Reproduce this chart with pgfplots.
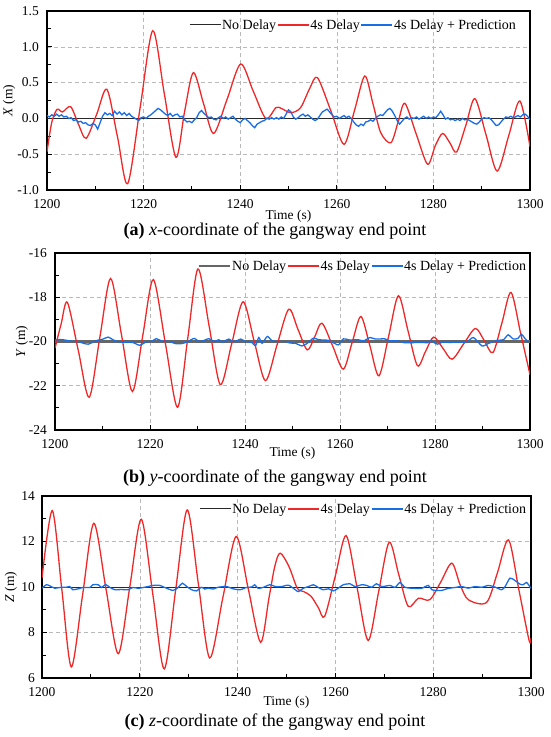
\documentclass[border=0pt]{standalone}
\usepackage{pgfplots}
\pgfplotsset{compat=1.18}
\usepackage{fontspec}
\setmainfont{Liberation Serif}
\definecolor{myred}{RGB}{238,40,40}
\definecolor{myblue}{RGB}{25,110,230}
\definecolor{nodel}{RGB}{40,40,40}
\definecolor{gridc}{RGB}{185,185,185}
\pgfplotsset{
  gangway/.style={
    scale only axis,
    xmin=1200, xmax=1300,
    xtick={1200,1220,...,1300},
    minor x tick num=1,
    minor y tick num=1,
    tick pos=left,
    tick align=inside,
    major tick length=5pt,
    minor tick length=4pt,
    tick style={black, line width=0.9pt},
    axis line style={black, line width=1.2pt},
    grid=major,
    major grid style={gridc, dash pattern=on 4pt off 3pt, line width=0.6pt},
    /pgf/number format/assume math mode=true,
    /pgf/number format/1000 sep={},
    ticklabel style={font=\fontsize{13.5}{15}\selectfont},
    label style={font=\fontsize{13.5}{16}\selectfont},
    xticklabel style={yshift=-6pt},
    xlabel={Time (s)},
    legend columns=3,
    legend style={draw=none, fill=none, inner sep=0pt, outer sep=0pt,
      font=\fontsize{14}{16}\selectfont,
      /tikz/every even column/.append style={column sep=0pt},
      nodes={inner sep=1pt}},
    legend image code/.code={\draw[#1] (0pt,0pt) -- (31pt,0pt);},
  }
}
\begin{document}
\begin{tikzpicture}
\useasboundingbox (0,0) rectangle (550pt,-737pt);
% ---------------- (a) ----------------
\begin{axis}[gangway,
  at={(47pt,-190pt)}, anchor=south west,
  width=483pt, height=179pt,
  ymin=-1.0, ymax=1.5, ytick={-1.0,-0.5,...,1.5},
  yticklabel style={/pgf/number format/.cd, fixed, fixed zerofill, precision=1, /tikz/.cd, inner sep=0pt, xshift=-8pt},
  ylabel={\textit{X} (m)},
  ylabel style={at={(axis description cs:-0.0786,0.5)}, anchor=center},
  xlabel style={at={(axis description cs:0.5,-0.148)}, anchor=center},
  legend style={at={(0.973,0.922)}, anchor=east},
]
\addplot[nodel, line width=1pt] coordinates {(1200,0) (1300,0)};
\addplot[myred, line width=1.3pt, smooth] coordinates {
(1200,-0.465) (1201,-0.05) (1202.1,0.127) (1203.2,0.09) (1204.9,0.163) (1206.5,-0.08)
(1208.1,-0.278) (1210.3,0.06) (1212.4,0.406) (1214.6,-0.26) (1216.7,-0.912) (1219.3,0.16)
(1221.9,1.225) (1224.3,0.34) (1226.7,-0.544) (1228.5,0.1) (1230.3,0.64) (1232.4,0.21)
(1234.5,-0.21) (1237.3,0.27) (1240.1,0.76) (1242.7,0.38) (1245.3,0.0) (1247.4,0.15)
(1248.5,0.14) (1250.5,0.08) (1252.5,0.15) (1254.4,0.42) (1256.0,0.569) (1258.8,0.1)
(1261.5,-0.362) (1263.7,0.12) (1265.8,0.592) (1267.5,0.2) (1269.1,-0.2) (1271.2,-0.34)
(1272.7,-0.05) (1274.1,0.21) (1276.5,-0.23) (1278.8,-0.64) (1280.4,-0.38) (1281.9,-0.21)
(1283.4,-0.34) (1284.8,-0.47) (1286.7,-0.1) (1288.6,0.276) (1290.9,-0.23) (1293.2,-0.735)
(1295.6,-0.24) (1297.9,0.243) (1300,-0.395)};
\addplot[myblue, line width=1.3pt] coordinates {
(1200,0.04) (1200.5,0.02) (1201,0.05) (1201.5,0.03) (1202,0.06) (1202.5,0.03) (1203,0.05)
(1203.5,0.02) (1204,0.03) (1204.5,0.0) (1205,0.01) (1205.5,-0.03) (1206,-0.02) (1206.5,-0.05)
(1207,-0.04) (1207.5,-0.07) (1208,-0.06) (1208.5,-0.09) (1209,-0.1) (1209.5,-0.07) (1210,-0.09)
(1210.5,-0.15) (1211,-0.06) (1211.5,0.03) (1212,0.08) (1212.5,0.05) (1213,0.07) (1213.5,0.04)
(1214,0.1) (1214.5,0.06) (1215,0.09) (1215.5,0.05) (1216,0.08) (1216.5,0.04) (1217,0.07)
(1217.5,0.03) (1218,0.01) (1218.5,-0.01) (1219,-0.03) (1219.5,0.01) (1220,0.02) (1220.5,0.0)
(1221,0.03) (1221.5,0.05) (1222,0.08) (1222.5,0.11) (1223,0.14) (1223.5,0.12) (1224,0.09)
(1224.5,0.06) (1225,0.04) (1225.5,0.07) (1226,0.03) (1226.5,0.05) (1227,0.06) (1227.5,0.02)
(1228,0.03) (1228.5,-0.02) (1229,-0.05) (1229.5,-0.04) (1230,-0.06) (1230.5,-0.02) (1231,0.01)
(1231.5,0.08) (1232,0.11) (1232.5,0.07) (1233,0.04) (1233.5,0.01) (1234,0.02) (1234.5,-0.01)
(1235,-0.02) (1235.5,0.01) (1236,0.03) (1236.5,0.0) (1237,0.02) (1237.5,-0.01) (1238,0.01)
(1238.5,0.03) (1239,-0.01) (1239.5,-0.04) (1240,-0.06) (1240.5,-0.02) (1241,0.0) (1241.5,-0.03)
(1242,-0.06) (1242.5,-0.1) (1243,-0.13) (1243.5,-0.08) (1244,-0.06) (1244.5,-0.04) (1245,-0.03)
(1245.5,0.0) (1246,-0.01) (1246.5,0.01) (1247,-0.01) (1247.5,0.01) (1248,-0.01) (1248.5,0.02)
(1249,0.0) (1249.5,0.06) (1250,0.12) (1250.5,0.09) (1251,0.02) (1251.5,-0.01) (1252,0.01)
(1252.5,0.04) (1253,0.06) (1253.5,0.03) (1254,0.05) (1254.5,0.02) (1255,-0.01) (1255.5,-0.03)
(1256,-0.01) (1256.5,0.04) (1257,0.09) (1257.5,0.11) (1258,0.13) (1258.5,0.09) (1259,0.05)
(1259.5,0.02) (1260,0.03) (1260.5,0.0) (1261,0.02) (1261.5,0.04) (1262,0.01) (1262.5,0.03)
(1263,0.0) (1263.5,-0.05) (1264,-0.09) (1264.5,-0.11) (1265,-0.08) (1265.5,-0.1) (1266,-0.05)
(1266.5,-0.04) (1267,-0.02) (1267.5,-0.04) (1268,0.0) (1268.5,0.03) (1269,0.05) (1269.5,0.04)
(1270,0.08) (1270.5,0.12) (1271,0.14) (1271.5,0.1) (1272,0.04) (1272.5,-0.03) (1273,-0.08)
(1273.5,-0.04) (1274,0.0) (1274.5,0.02) (1275,-0.01) (1275.5,0.01) (1276,0.0) (1276.5,0.02)
(1277,-0.01) (1277.5,0.01) (1278,0.03) (1278.5,0.0) (1279,0.02) (1279.5,0.0) (1280,0.02)
(1280.5,0.01) (1281,0.05) (1281.5,0.1) (1282,0.05) (1282.5,-0.01) (1283,0.01) (1283.5,-0.02)
(1284,-0.01) (1284.5,-0.03) (1285,-0.01) (1285.5,-0.03) (1286,0.0) (1286.5,-0.02) (1287,-0.01)
(1287.5,-0.03) (1288,-0.05) (1288.5,-0.07) (1289,-0.08) (1289.5,-0.05) (1290,-0.01) (1290.5,0.01)
(1291,0.0) (1291.5,0.01) (1292,-0.02) (1292.5,-0.06) (1293,-0.1) (1293.5,-0.09) (1294,-0.05)
(1294.5,-0.01) (1295,0.02) (1295.5,0.01) (1296,0.03) (1296.5,0.01) (1297,0.02) (1297.5,0.04)
(1298,0.02) (1298.5,0.05) (1299,0.06) (1299.5,0.03) (1300,-0.02)};
\legend{No Delay, 4s Delay, 4s Delay + Prediction}
\end{axis}
\node at (275pt,-231pt) {\fontsize{18}{21}\selectfont\textbf{(a)} \textit{x}-coordinate of the gangway end point};
% ---------------- (b) ----------------
\begin{axis}[gangway,
  at={(55pt,-430pt)}, anchor=south west,
  width=475pt, height=177pt,
  ymin=-24, ymax=-16, ytick={-24,-22,...,-16},
  yticklabel style={inner sep=0pt, xshift=-8pt},
  ylabel={\textit{Y} (m)},
  ylabel style={at={(axis description cs:-0.0695,0.5)}, anchor=center},
  xlabel style={at={(axis description cs:0.5,-0.132)}, anchor=center},
  legend style={at={(0.9937,0.927)}, anchor=east},
]
\addplot[black!60, line width=2.2pt] coordinates {(1200,-20) (1300,-20)};
\addplot[myred, line width=1.3pt, smooth] coordinates {
(1200,-20.3) (1201.3,-19.2) (1202.6,-18.23) (1204.9,-20.4) (1207.2,-22.52) (1209.45,-19.8)
(1211.7,-17.15) (1214.0,-19.7) (1216.3,-22.26) (1218.5,-19.7) (1220.7,-17.2) (1223.25,-20.1)
(1225.8,-22.97) (1227.95,-19.85) (1230.1,-16.72) (1232.45,-19.3) (1234.8,-21.95) (1237.2,-20.1)
(1239.6,-18.2) (1241.95,-20.0) (1244.3,-21.77) (1246.75,-20.15) (1249.2,-18.54) (1251.15,-19.45)
(1253.1,-20.38) (1254.65,-19.8) (1256.2,-19.17) (1258.45,-20.2) (1260.7,-21.25) (1262.55,-20.05)
(1264.4,-18.87) (1266.3,-20.2) (1268.2,-21.55) (1270.25,-19.75) (1272.3,-17.93) (1274.3,-19.5)
(1276.3,-21.09) (1278.0,-20.45) (1279.7,-19.8) (1281.65,-20.3) (1283.6,-20.8) (1286.05,-20.1)
(1288.5,-19.41) (1290.35,-19.95) (1292.2,-20.5) (1294.1,-19.15) (1296.0,-17.78) (1298,-19.6)
(1300,-21.5)};
\addplot[myblue, line width=1.3pt, smooth, tension=0.4] coordinates {
(1200,-19.93) (1201,-19.91) (1202,-19.93) (1203,-19.97) (1204,-20.0) (1205,-20.01) (1206,-20.08)
(1207,-20.12) (1208,-20.03) (1209,-19.94) (1210,-19.9) (1211.2,-19.8) (1212.2,-19.92) (1213.5,-20.02)
(1215,-20.03) (1216.5,-20.05) (1217.8,-20.17) (1219.2,-20.02) (1220.5,-19.98) (1221.3,-19.87)
(1222.5,-19.98) (1224,-20.0) (1225.5,-20.1) (1226.8,-20.09) (1228,-20.0) (1229.3,-19.86)
(1230.4,-20.01) (1231.4,-19.95) (1232.4,-19.87) (1233.5,-20.0) (1234.5,-19.92) (1235.2,-20.03)
(1236.6,-19.89) (1237.7,-20.02) (1239.1,-19.89) (1240.1,-20.0) (1241.5,-20.05) (1242.2,-20.2)
(1242.9,-19.82) (1243.6,-20.08) (1244.7,-19.77) (1245.7,-19.97) (1247,-20.0) (1248.5,-20.0)
(1249.5,-20.07) (1250.6,-20.08) (1252,-20.2) (1253.1,-20.08) (1254.4,-19.85) (1255.5,-19.92)
(1256.5,-19.93) (1257.6,-19.95) (1259,-20.1) (1259.7,-20.15) (1260.7,-19.88) (1262,-19.93)
(1263.8,-19.92) (1265,-19.97) (1266.3,-19.82) (1267.5,-19.89) (1269.4,-19.88) (1270.5,-19.97)
(1272.2,-19.97) (1273.5,-20.05) (1275.5,-20.05) (1277,-20.04) (1278.4,-20.05) (1279.1,-19.97)
(1280.5,-20.12) (1281.5,-20.03) (1283,-20.04) (1285,-20.03) (1286.7,-20.02) (1288.1,-19.82)
(1289.9,-20.2) (1291.3,-20.08) (1293,-19.95) (1294.4,-19.92) (1295.4,-19.7) (1296.5,-19.89)
(1297.5,-19.85) (1298.2,-19.67) (1298.9,-19.85) (1299.6,-20.0) (1300,-20.02)};
\legend{No Delay, 4s Delay, 4s Delay + Prediction}
\end{axis}
\node at (275pt,-478pt) {\fontsize{18}{21}\selectfont\textbf{(b)} \textit{y}-coordinate of the gangway end point};
% ---------------- (c) ----------------
\begin{axis}[gangway,
  at={(42pt,-678pt)}, anchor=south west,
  width=489pt, height=182pt,
  ymin=6, ymax=14, ytick={6,8,...,14},
  yticklabel style={inner sep=0pt, xshift=-7pt},
  ylabel={\textit{Z} (m)},
  ylabel style={at={(axis description cs:-0.0634,0.5)}, anchor=center},
  xlabel style={at={(axis description cs:0.5,-0.134)}, anchor=center},
  legend style={at={(0.992,0.929)}, anchor=east},
]
\addplot[nodel, line width=1pt] coordinates {(1200,10) (1300,10)};
\addplot[myred, line width=1.3pt, smooth] coordinates {
(1200,10.39) (1202.1,13.36) (1204.05,9.9) (1206.0,6.49) (1208.3,9.65) (1210.6,12.8)
(1213.1,9.9) (1215.6,7.07) (1217.95,10.0) (1220.3,12.98) (1222.65,9.7) (1225.0,6.4)
(1227.35,9.9) (1229.7,13.39) (1232.0,10.1) (1234.3,6.88) (1237.0,9.55) (1239.7,12.22)
(1242.2,9.9) (1244.7,7.57) (1246.4,9.5) (1247.6,10.9) (1248.7,11.49) (1250.5,10.9)
(1252.2,9.95) (1253.5,9.8) (1255,9.6) (1256.5,9.1) (1257.8,8.71) (1260.0,10.5)
(1262.2,12.26) (1264.45,9.95) (1266.7,7.65) (1268.85,9.8) (1271.0,11.97) (1272.95,10.55)
(1274.9,9.15) (1277.0,9.51) (1279.3,9.44) (1281.5,10.2) (1283.8,11.05) (1285.5,10.1)
(1287.2,9.44) (1290.9,9.32) (1293.1,10.6) (1295.4,12.07) (1297.5,9.9) (1299.6,7.66)
(1300,7.75)};
\addplot[myblue, line width=1.3pt, smooth, tension=0.4] coordinates {
(1200,9.95) (1200.9,10.1) (1201.6,10.05) (1202.6,9.95) (1204,9.99) (1205,9.99) (1205.7,10.02)
(1206.3,9.88) (1207.4,9.92) (1208.4,9.98) (1209.8,9.98) (1210.4,10.1) (1211.5,10.1) (1212.2,9.98)
(1213,10.11) (1213.9,9.98) (1214.9,9.88) (1216.2,9.89) (1217.6,9.88) (1218.6,9.98) (1219.7,9.94)
(1220.7,9.98) (1221.7,10.02) (1222.7,10.07) (1224.1,10.07) (1225.1,9.98) (1226.8,9.85)
(1227.9,9.99) (1228.7,10.17) (1229.6,10.02) (1230.6,9.88) (1231.6,9.83) (1232.6,9.99)
(1233.3,9.91) (1234,9.95) (1235,9.91) (1236,9.99) (1237.7,10.02) (1239.1,9.92) (1240.5,9.88)
(1241.8,9.98) (1242.9,10.0) (1243.5,10.1) (1244.2,9.94) (1245.3,9.99) (1246.6,10.1)
(1247.7,10.02) (1249,10.02) (1250.4,10.08) (1251.8,9.88) (1252.4,9.8) (1253.5,9.95)
(1254.5,10.02) (1255.5,10.1) (1256.5,9.98) (1257.5,9.88) (1258.6,9.92) (1259.6,9.83)
(1260.6,9.95) (1261.6,10.1) (1263,10.14) (1264,10.02) (1265.4,10.1) (1266.4,10.07)
(1267.4,9.99) (1268.4,10.14) (1269.5,10.02) (1271.2,10.07) (1272.2,9.98) (1273.2,10.2)
(1274.2,9.99) (1275.3,9.95) (1276.3,9.94) (1277.6,9.94) (1279,10.07) (1279.7,9.88)
(1280.4,9.85) (1281.7,9.85) (1283.1,9.94) (1284.5,9.98) (1285.8,10.02) (1287.2,9.95)
(1288.5,10.02) (1289.9,9.99) (1291.3,10.07) (1292.6,10.0) (1294,9.88) (1294.7,10.02)
(1295.7,10.39) (1296.7,10.29) (1297.7,10.13) (1298.4,10.1) (1299.1,10.2) (1300,9.94)};
\legend{No Delay, 4s Delay, 4s Delay + Prediction}
\end{axis}
\node at (275pt,-722pt) {\fontsize{18}{21}\selectfont\textbf{(c)} \textit{z}-coordinate of the gangway end point};
\end{tikzpicture}
\end{document}
